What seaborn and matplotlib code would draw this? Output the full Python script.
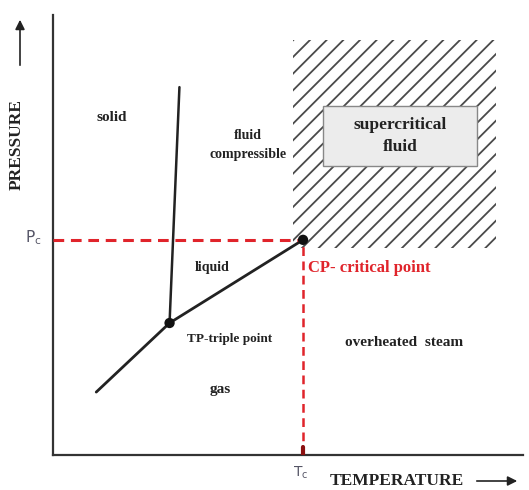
import pandas as pd
import seaborn as sns
import matplotlib.pyplot as plt
from matplotlib.patches import Rectangle

# phase diagram key points (axis units 0-100)
triple_point = (24.8, 30.0)
critical_point = (53.2, 48.9)
sublimation_start = (9.2, 14.3)
melting_end = (26.9, 83.6)

# region outlines
hatch_x = [51.1, 94.3]
hatch_y = [47.0, 94.3]
box_x = [57.4, 90.3]
box_y = [65.7, 79.3]

region_labels = ['solid', 'fluid\ncompressible', 'liquid', 'TP-triple point', 'gas', 'overheated  steam']
label_x = [12.4, 41.4, 33.8, 37.6, 35.5, 74.6]
label_y = [76.6, 70.5, 42.5, 26.4, 14.8, 25.5]

sns.set_style('white')
plt.rcParams['font.family'] = ['Liberation Serif', 'DejaVu Serif']
plt.rcParams['hatch.linewidth'] = 1.3

fig = plt.figure(figsize=(5.29, 4.90), dpi=100)
ax = fig.add_axes([53 / 529, 35 / 490, 470 / 529, 440 / 490])

# boundary lines
sub = pd.DataFrame({'T': [sublimation_start[0], triple_point[0], critical_point[0]],
                    'P': [sublimation_start[1], triple_point[1], critical_point[1]]})
melt = pd.DataFrame({'T': [triple_point[0], melting_end[0]],
                     'P': [triple_point[1], melting_end[1]]})
sns.lineplot(data=sub, x='T', y='P', sort=False, color='#222222', lw=2, ax=ax)
sns.lineplot(data=melt, x='T', y='P', sort=False, color='#222222', lw=1.8, ax=ax)

# critical dashed lines
ax.plot([0, critical_point[0]], [critical_point[1], critical_point[1]],
        ls=(0, (3.5, 2.2)), color='#e0242b', lw=2.2, zorder=3)
ax.plot([critical_point[0], critical_point[0]], [0, critical_point[1]],
        ls=(0, (3.5, 2.2)), color='#e0242b', lw=1.8, zorder=3)
ax.plot([critical_point[0], critical_point[0]], [0, 1.8], color='#8b1010', lw=3, zorder=4)

pts = pd.DataFrame({'T': [triple_point[0], critical_point[0]],
                    'P': [triple_point[1], critical_point[1]]})
sns.scatterplot(data=pts, x='T', y='P', color='#111111', s=55, ax=ax, zorder=5, edgecolor='none')

# supercritical region
ax.add_patch(Rectangle((hatch_x[0], hatch_y[0]), hatch_x[1] - hatch_x[0], hatch_y[1] - hatch_y[0],
                       facecolor='none', edgecolor='#4a4a4a', lw=0, hatch='//', zorder=1))
ax.add_patch(Rectangle((box_x[0], box_y[0]), box_x[1] - box_x[0], box_y[1] - box_y[0],
                       facecolor='#ececec', edgecolor='#888888', lw=1, zorder=2))
ax.text(sum(box_x) / 2, sum(box_y) / 2, 'supercritical\nfluid', ha='center', va='center',
        fontsize=12.5, fontweight='bold', color='#222222', linespacing=1.5, zorder=3)

sizes = [11, 10, 10, 9.5, 11, 11]
for lab, x, y, fs in zip(region_labels, label_x, label_y, sizes):
    ax.text(x, y, lab, ha='center', va='center', fontsize=fs, fontweight='bold',
            color='#222222', linespacing=1.6)

ax.text(critical_point[0] + 1, 42.5, 'CP- critical point', ha='left', va='center',
        fontsize=12, fontweight='bold', color='#e0242b')

ax.set_xlim(0, 100)
ax.set_ylim(0, 100)
ax.set_xticks([])
ax.set_yticks([])
ax.set_xlabel('')
ax.set_ylabel('')
for s in ['top', 'right']:
    ax.spines[s].set_visible(False)
for s in ['left', 'bottom']:
    ax.spines[s].set_color('#333333')
    ax.spines[s].set_linewidth(1.6)

# Pc / Tc markers
ax.text(-2.5, critical_point[1] + 0.6, r'$\mathregular{P_c}$', ha='right', va='center',
        fontsize=11, color='#555566', family='DejaVu Sans')
ax.text(critical_point[0] - 0.6, -2.2, r'$\mathregular{T_c}$', ha='center', va='top',
        fontsize=10, color='#555566', family='DejaVu Sans')

# axis titles with arrows
fig.text(17 / 529, 1 - 145 / 490, 'PRESSURE', rotation=90, ha='center', va='center',
         fontsize=12.5, fontweight='bold', color='#222222')
fig.text(397 / 529, 1 - 481 / 490, 'TEMPERATURE', ha='center', va='center',
         fontsize=12.5, fontweight='bold', color='#222222')
ax.annotate('', xy=(20 / 529, 1 - 17 / 490), xytext=(20 / 529, 1 - 68 / 490),
            xycoords='figure fraction', textcoords='figure fraction',
            arrowprops=dict(arrowstyle='-|>', color='#222222', lw=1.2, mutation_scale=14))
ax.annotate('', xy=(520 / 529, 1 - 481 / 490), xytext=(474 / 529, 1 - 481 / 490),
            xycoords='figure fraction', textcoords='figure fraction',
            arrowprops=dict(arrowstyle='-|>', color='#222222', lw=1.2, mutation_scale=14))

plt.savefig('out.png', dpi=100)
